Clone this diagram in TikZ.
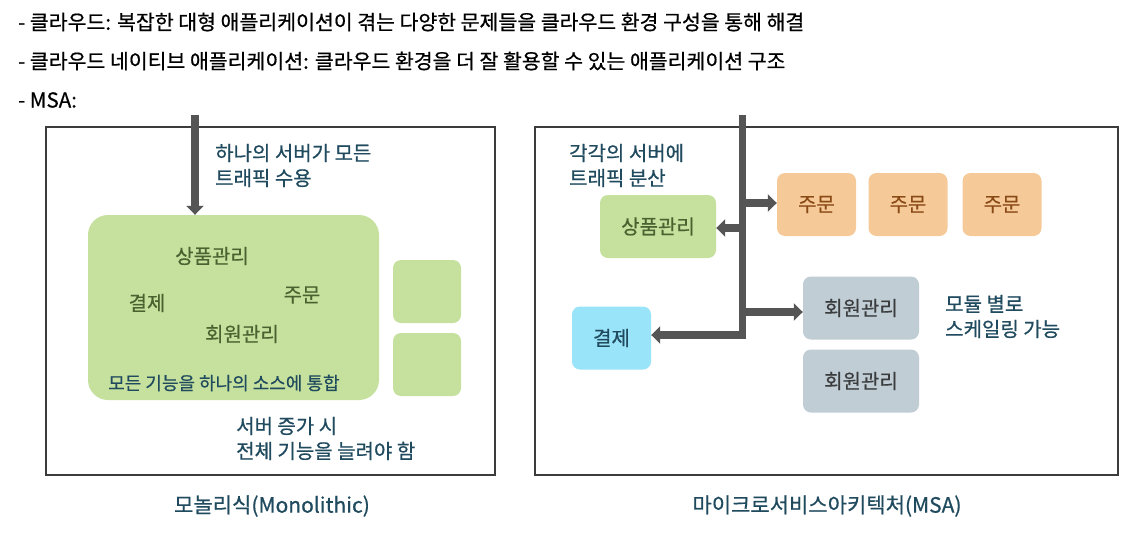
\documentclass[tikz,border=0pt]{standalone}
\usepackage{fontspec}
\setmainfont{Noto Sans CJK KR}[FakeBold=0.6]
\usetikzlibrary{arrows.meta}

\definecolor{txtteal}{RGB}{32,74,94}
\definecolor{framegray}{RGB}{60,60,60}
\definecolor{arrowgray}{RGB}{85,85,85}
\definecolor{modgreen}{RGB}{198,225,158}
\definecolor{modgreentxt}{RGB}{74,98,48}
\definecolor{modorange}{RGB}{245,202,152}
\definecolor{modorangetxt}{RGB}{138,74,22}
\definecolor{modgray}{RGB}{192,205,213}
\definecolor{modgraytxt}{RGB}{58,60,62}
\definecolor{modblue}{RGB}{154,228,250}

\tikzset{
  frame/.style={draw=framegray, line width=2pt, minimum width=449, minimum height=348},
  module/.style={rounded corners=8pt, minimum width=79, minimum height=63},
  note/.style={text=txtteal, align=left, anchor=west},
  flow/.style={draw=arrowgray, line width=7.5pt, -{Triangle[width=17pt,length=9pt]}}
}

\begin{document}
\begin{tikzpicture}[x=1pt, y=-1pt, every node/.style={font=\fontsize{20}{25}\selectfont, inner sep=0pt}]

    \useasboundingbox[fill=white] (0,0) rectangle (1148,536);

    % header
    \node[anchor=west, font=\fontsize{20.5}{25}\selectfont] (line1) at (18,22) {- 클라우드: 복잡한 대형 애플리케이션이 겪는 다양한 문제들을 클라우드 환경 구성을 통해 해결};
    \node[anchor=west, font=\fontsize{20.5}{25}\selectfont] (line2) at (18,61) {- 클라우드 네이티브 애플리케이션: 클라우드 환경을 더 잘 활용할 수 있는 애플리케이션 구조};
    \node[anchor=west, font=\fontsize{20.5}{25}\selectfont] (line3) at (18,100) {- MSA:};

    % monolithic
    \node[frame] (monoframe) at (270.5,301) {};
    \node[fill=modgreen, rounded corners=20pt, minimum width=291, minimum height=185] (mono) at (233.5,307.5) {};
    \node[fill=modgreen, module, minimum width=68] (spare1) at (427,291.5) {};
    \node[fill=modgreen, module, minimum width=68] (spare2) at (427,364.5) {};

    \node[text=modgreentxt] (m1) at (212,256) {상품관리};
    \node[text=modgreentxt] (m2) at (147,303) {결제};
    \node[text=modgreentxt] (m3) at (302,295) {주문};
    \node[text=modgreentxt] (m4) at (242,334) {회원관리};
    \node[note, font=\fontsize{18}{20}\selectfont] (monosrc) at (108,383) {모든 기능을 하나의 소스에 통합};

    \coordinate (monoin) at (195,115);
    \draw[flow] (monoin) -- (monoin |- mono.north);
    \node[note] (monotraffic) at (215,165.5) {하나의 서버가 모든\\트래픽 수용};
    \node[note] (monoscale) at (236,438.5) {서버 증가 시\\전체 기능을 늘려야 함};

    \node[text=txtteal, font=\fontsize{21}{25}\selectfont] (monocap) at (272,506) {모놀리식(Monolithic)};

    % msa
    \node[frame, minimum width=583] (msaframe) at (826.5,301) {};

    \node[fill=modgreen, module, minimum width=116, text=modgreentxt] (product) at (658,226.5) {상품관리};
    \node[fill=modblue, module, text=txtteal] (pay) at (611.5,338) {결제};
    \node[fill=modorange, module, text=modorangetxt] (order1) at (816.5,204.5) {주문};
    \node[fill=modorange, module, text=modorangetxt] (order2) at (908,204.5) {주문};
    \node[fill=modorange, module, text=modorangetxt] (order3) at (1002,204.5) {주문};
    \node[fill=modgray, module, minimum width=116, text=modgraytxt] (member1) at (861,308) {회원관리};
    \node[fill=modgray, module, minimum width=116, text=modgraytxt] (member2) at (861,381) {회원관리};

    \coordinate (msain) at (742.5,115);
    \coordinate (msaend) at (742.5,339);
    \draw[draw=arrowgray, line width=7.5pt] (msain) -- (msaend);
    \draw[flow] (msain |- order1.west) ++(0,-1.5) -- (order1.west |- 0,203);
    \draw[flow] (msain |- product.east) ++(0,1.5) -- (product.east |- 0,228);
    \draw[flow] (msain |- member1.west) ++(0,4) -- (member1.west |- 0,312);
    \draw[flow] (msaend) ++(3.75,-4) -- (pay.east |- 0,335);

    \node[note] (msatraffic) at (569,165.5) {각각의 서버에\\트래픽 분산};
    \node[note] (msascale) at (945,316.5) {모듈 별로\\스케일링 가능};

    \node[text=txtteal, font=\fontsize{21}{25}\selectfont] (msacap) at (827,506) {마이크로서비스아키텍처(MSA)};
\end{tikzpicture}
\end{document}
